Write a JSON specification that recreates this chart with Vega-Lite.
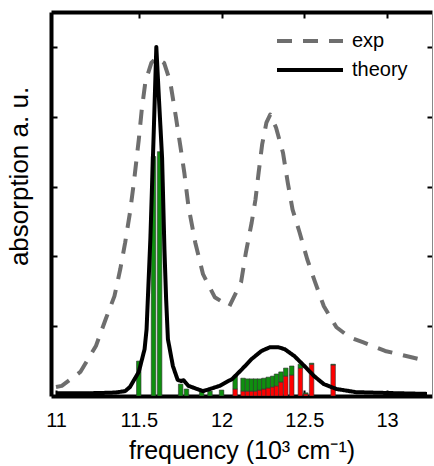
{
  "$schema": "https://vega.github.io/schema/vega-lite/v6.json",
  "width": 381,
  "height": 384,
  "autosize": "none",
  "padding": {"left": 51, "top": 12, "right": 2, "bottom": 70},
  "background": "white",
  "config": {
    "view": {"stroke": null},
    "font": "Liberation Sans",
    "axis": {"grid": false, "labelFont": "Liberation Sans", "titleFont": "Liberation Sans", "labelColor": "black", "titleColor": "black", "titleFontWeight": "normal"}
  },
  "datasets": {
    "curves": [
      {"series": "exp", "freq": 11.0, "value": 0.026},
      {"series": "exp", "freq": 11.035, "value": 0.029},
      {"series": "exp", "freq": 11.147, "value": 0.069},
      {"series": "exp", "freq": 11.241, "value": 0.143},
      {"series": "exp", "freq": 11.3, "value": 0.22},
      {"series": "exp", "freq": 11.353, "value": 0.286},
      {"series": "exp", "freq": 11.388, "value": 0.363},
      {"series": "exp", "freq": 11.418, "value": 0.44},
      {"series": "exp", "freq": 11.447, "value": 0.526},
      {"series": "exp", "freq": 11.47, "value": 0.61},
      {"series": "exp", "freq": 11.5, "value": 0.734},
      {"series": "exp", "freq": 11.518, "value": 0.82},
      {"series": "exp", "freq": 11.54, "value": 0.9},
      {"series": "exp", "freq": 11.576, "value": 0.954},
      {"series": "exp", "freq": 11.606, "value": 0.969},
      {"series": "exp", "freq": 11.653, "value": 0.954},
      {"series": "exp", "freq": 11.69, "value": 0.9},
      {"series": "exp", "freq": 11.724, "value": 0.8},
      {"series": "exp", "freq": 11.753, "value": 0.71},
      {"series": "exp", "freq": 11.775, "value": 0.64},
      {"series": "exp", "freq": 11.8, "value": 0.543},
      {"series": "exp", "freq": 11.841, "value": 0.44},
      {"series": "exp", "freq": 11.888, "value": 0.349},
      {"series": "exp", "freq": 11.959, "value": 0.283},
      {"series": "exp", "freq": 12.047, "value": 0.257},
      {"series": "exp", "freq": 12.118, "value": 0.326},
      {"series": "exp", "freq": 12.147, "value": 0.411},
      {"series": "exp", "freq": 12.182, "value": 0.497},
      {"series": "exp", "freq": 12.205, "value": 0.563},
      {"series": "exp", "freq": 12.224, "value": 0.64},
      {"series": "exp", "freq": 12.245, "value": 0.72},
      {"series": "exp", "freq": 12.271, "value": 0.783},
      {"series": "exp", "freq": 12.294, "value": 0.806},
      {"series": "exp", "freq": 12.329, "value": 0.769},
      {"series": "exp", "freq": 12.371, "value": 0.697},
      {"series": "exp", "freq": 12.4, "value": 0.611},
      {"series": "exp", "freq": 12.429, "value": 0.534},
      {"series": "exp", "freq": 12.471, "value": 0.469},
      {"series": "exp", "freq": 12.518, "value": 0.391},
      {"series": "exp", "freq": 12.565, "value": 0.326},
      {"series": "exp", "freq": 12.618, "value": 0.257},
      {"series": "exp", "freq": 12.694, "value": 0.197},
      {"series": "exp", "freq": 12.771, "value": 0.169},
      {"series": "exp", "freq": 12.853, "value": 0.154},
      {"series": "exp", "freq": 12.988, "value": 0.129},
      {"series": "exp", "freq": 13.147, "value": 0.111},
      {"series": "exp", "freq": 13.241, "value": 0.1},
      {"series": "theory", "freq": 11.0, "value": 0.008},
      {"series": "theory", "freq": 11.1, "value": 0.008},
      {"series": "theory", "freq": 11.2, "value": 0.008},
      {"series": "theory", "freq": 11.3, "value": 0.009},
      {"series": "theory", "freq": 11.36, "value": 0.01},
      {"series": "theory", "freq": 11.418, "value": 0.014},
      {"series": "theory", "freq": 11.447, "value": 0.026},
      {"series": "theory", "freq": 11.5, "value": 0.069},
      {"series": "theory", "freq": 11.535, "value": 0.134},
      {"series": "theory", "freq": 11.547, "value": 0.19},
      {"series": "theory", "freq": 11.57, "value": 0.45},
      {"series": "theory", "freq": 11.59, "value": 0.75},
      {"series": "theory", "freq": 11.606, "value": 1.0},
      {"series": "theory", "freq": 11.622, "value": 0.85},
      {"series": "theory", "freq": 11.641, "value": 0.68},
      {"series": "theory", "freq": 11.655, "value": 0.42},
      {"series": "theory", "freq": 11.665, "value": 0.28},
      {"series": "theory", "freq": 11.676, "value": 0.163},
      {"series": "theory", "freq": 11.706, "value": 0.086},
      {"series": "theory", "freq": 11.735, "value": 0.046},
      {"series": "theory", "freq": 11.755, "value": 0.043},
      {"series": "theory", "freq": 11.771, "value": 0.045},
      {"series": "theory", "freq": 11.8, "value": 0.029},
      {"series": "theory", "freq": 11.853, "value": 0.02},
      {"series": "theory", "freq": 11.888, "value": 0.014},
      {"series": "theory", "freq": 11.93, "value": 0.02},
      {"series": "theory", "freq": 11.988, "value": 0.029},
      {"series": "theory", "freq": 12.065, "value": 0.049},
      {"series": "theory", "freq": 12.124, "value": 0.077},
      {"series": "theory", "freq": 12.182, "value": 0.106},
      {"series": "theory", "freq": 12.241, "value": 0.129},
      {"series": "theory", "freq": 12.294, "value": 0.14},
      {"series": "theory", "freq": 12.341, "value": 0.14},
      {"series": "theory", "freq": 12.382, "value": 0.134},
      {"series": "theory", "freq": 12.441, "value": 0.114},
      {"series": "theory", "freq": 12.5, "value": 0.086},
      {"series": "theory", "freq": 12.559, "value": 0.057},
      {"series": "theory", "freq": 12.618, "value": 0.034},
      {"series": "theory", "freq": 12.694, "value": 0.02},
      {"series": "theory", "freq": 12.812, "value": 0.011},
      {"series": "theory", "freq": 12.97, "value": 0.009},
      {"series": "theory", "freq": 13.241, "value": 0.006}
    ],
    "bars": [
      {"freq": 11.5, "kind": "green", "ord": 2, "value": 0.1},
      {"freq": 11.589, "kind": "green", "ord": 2, "value": 0.686},
      {"freq": 11.626, "kind": "green", "ord": 2, "value": 0.7},
      {"freq": 11.753, "kind": "green", "ord": 2, "value": 0.034},
      {"freq": 11.788, "kind": "green", "ord": 2, "value": 0.02},
      {"freq": 11.88, "kind": "green", "ord": 2, "value": 0.014},
      {"freq": 11.93, "kind": "green", "ord": 2, "value": 0.014},
      {"freq": 12.0, "kind": "green", "ord": 2, "value": 0.017},
      {"freq": 12.082, "kind": "red", "ord": 1, "value": 0.02},
      {"freq": 12.082, "kind": "green", "ord": 2, "value": 0.037},
      {"freq": 12.13, "kind": "red", "ord": 1, "value": 0.014},
      {"freq": 12.13, "kind": "green", "ord": 2, "value": 0.037},
      {"freq": 12.157, "kind": "red", "ord": 1, "value": 0.014},
      {"freq": 12.157, "kind": "green", "ord": 2, "value": 0.035},
      {"freq": 12.182, "kind": "red", "ord": 1, "value": 0.014},
      {"freq": 12.182, "kind": "green", "ord": 2, "value": 0.035},
      {"freq": 12.206, "kind": "red", "ord": 1, "value": 0.014},
      {"freq": 12.206, "kind": "green", "ord": 2, "value": 0.035},
      {"freq": 12.23, "kind": "red", "ord": 1, "value": 0.017},
      {"freq": 12.23, "kind": "green", "ord": 2, "value": 0.032},
      {"freq": 12.256, "kind": "red", "ord": 1, "value": 0.02},
      {"freq": 12.256, "kind": "green", "ord": 2, "value": 0.031},
      {"freq": 12.282, "kind": "red", "ord": 1, "value": 0.023},
      {"freq": 12.282, "kind": "green", "ord": 2, "value": 0.031},
      {"freq": 12.309, "kind": "red", "ord": 1, "value": 0.026},
      {"freq": 12.309, "kind": "green", "ord": 2, "value": 0.031},
      {"freq": 12.332, "kind": "red", "ord": 1, "value": 0.029},
      {"freq": 12.332, "kind": "green", "ord": 2, "value": 0.034},
      {"freq": 12.359, "kind": "red", "ord": 1, "value": 0.04},
      {"freq": 12.359, "kind": "green", "ord": 2, "value": 0.029},
      {"freq": 12.388, "kind": "red", "ord": 1, "value": 0.057},
      {"freq": 12.388, "kind": "green", "ord": 2, "value": 0.023},
      {"freq": 12.424, "kind": "red", "ord": 1, "value": 0.06},
      {"freq": 12.424, "kind": "green", "ord": 2, "value": 0.026},
      {"freq": 12.476, "kind": "red", "ord": 1, "value": 0.08},
      {"freq": 12.476, "kind": "green", "ord": 2, "value": 0.011},
      {"freq": 12.509, "kind": "red", "ord": 1, "value": 0.006},
      {"freq": 12.509, "kind": "green", "ord": 2, "value": 0.003},
      {"freq": 12.544, "kind": "red", "ord": 1, "value": 0.091},
      {"freq": 12.544, "kind": "green", "ord": 2, "value": 0.003},
      {"freq": 12.674, "kind": "red", "ord": 1, "value": 0.089},
      {"freq": 12.674, "kind": "green", "ord": 2, "value": 0.002}
    ]
  },
  "resolve": {"axis": {"x": "independent", "y": "independent"}},
  "layer": [
    {
      "data": {"name": "bars"},
      "mark": {"type": "bar", "size": 4.5, "stroke": "#333333", "strokeWidth": 0.6, "clip": true},
      "encoding": {
        "x": {"field": "freq", "type": "quantitative",
          "scale": {"domain": [11, 13.241], "nice": false, "zero": false},
          "axis": {"orient": "top", "values": [11.5, 12, 12.5, 13], "labels": false, "title": null, "domainColor": "black", "domainWidth": 4, "tickColor": "black", "tickSize": -6, "tickWidth": 2}},
        "y": {"field": "value", "type": "quantitative", "stack": "zero",
          "scale": {"domain": [0, 1.1], "nice": false, "zero": false},
          "axis": {"orient": "right", "values": [0.2, 0.4, 0.6, 0.8, 1.0], "labels": false, "title": null, "domainColor": "#888888", "domainWidth": 1, "tickColor": "black", "tickSize": -5, "tickWidth": 2}},
        "fill": {"field": "kind", "type": "nominal", "scale": {"domain": ["red", "green"], "range": ["#ff0000", "#0f8f0f"]}, "legend": null},
        "order": {"field": "ord", "type": "quantitative"}
      }
    },
    {
      "data": {"name": "curves"},
      "mark": {"type": "line", "strokeWidth": 4, "clip": true, "strokeCap": "butt", "strokeJoin": "round"},
      "encoding": {
        "x": {"field": "freq", "type": "quantitative",
          "axis": {"orient": "bottom", "values": [11, 11.5, 12, 12.5, 13], "format": "~g", "labelFontSize": 20, "labelPadding": 20, "title": "frequency (10³ cm⁻¹)", "titleFontSize": 25, "titlePadding": 8, "domainColor": "black", "domainWidth": 4, "tickColor": "black", "tickSize": -6, "tickWidth": 2}},
        "y": {"field": "value", "type": "quantitative",
          "axis": {"orient": "left", "values": [0.2, 0.4, 0.6, 0.8, 1.0], "labels": false, "title": "absorption a. u.", "titleFontSize": 26, "titlePadding": 18, "titleY": 164, "domainColor": "black", "domainWidth": 4, "tickColor": "black", "tickSize": -6, "tickWidth": 2}},
        "color": {"field": "series", "type": "nominal",
          "scale": {"domain": ["exp", "theory"], "range": ["#6e6e6e", "#000000"]},
          "legend": {"orient": "none", "legendX": 224, "legendY": 16, "title": null, "symbolType": "M-1,0H5", "symbolSize": 484, "symbolStrokeWidth": 4, "labelFontSize": 20, "labelFont": "Liberation Sans", "labelColor": "black", "labelOffset": 51, "rowPadding": 6}},
        "strokeDash": {"field": "series", "type": "nominal",
          "scale": {"domain": ["exp", "theory"], "range": [[15, 11], [1, 0]]},
          "legend": {"orient": "none", "legendX": 224, "legendY": 16, "title": null, "symbolType": "M-1,0H5", "symbolSize": 484, "symbolStrokeWidth": 4, "labelFontSize": 20, "labelFont": "Liberation Sans", "labelColor": "black", "labelOffset": 51, "rowPadding": 6}}
      }
    }
  ]
}
